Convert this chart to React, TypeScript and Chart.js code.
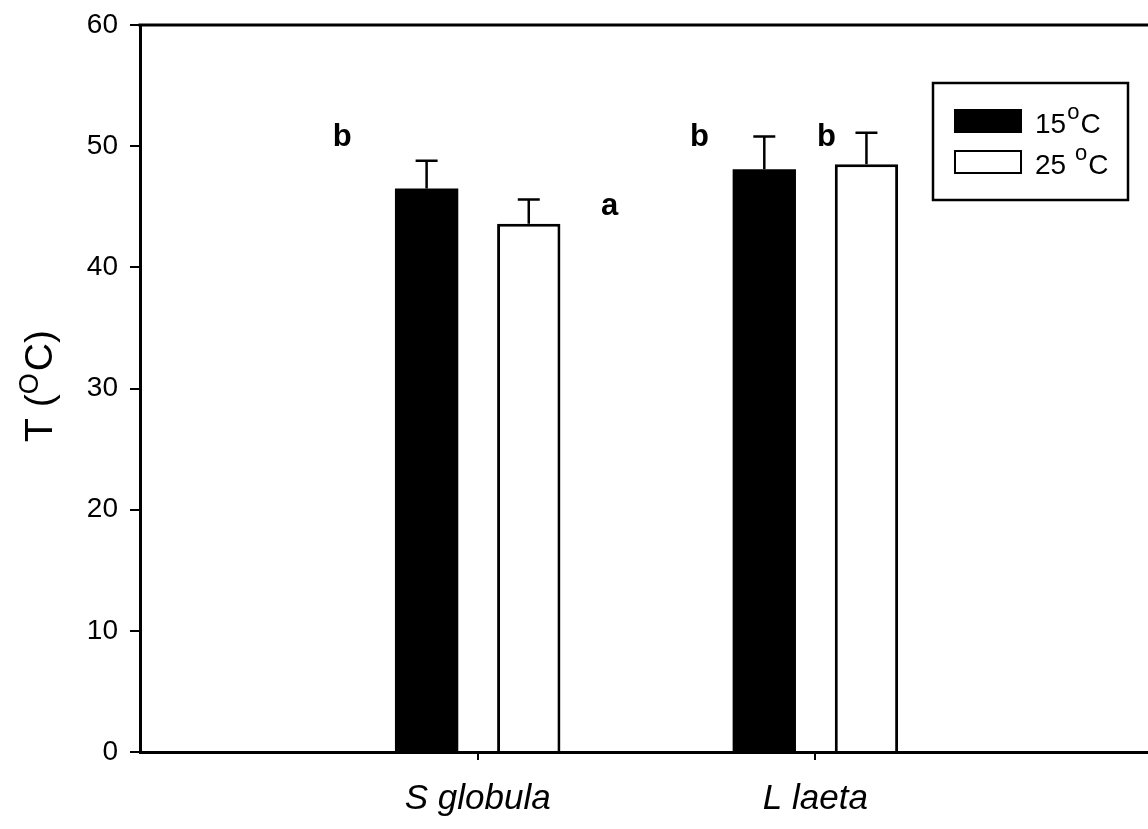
import React, { useEffect, useRef } from "react";
import { Chart, registerables } from "chart.js";

Chart.register(...registerables);

// Species on the x axis (placed at x = 1, 2)
const categories = ["S globula", "L laeta"];

// Mean temperature per species, one array per treatment
const mean15 = [46.5, 48.1];
const mean25 = [43.6, 48.5];

// Standard error (upper whisker only)
const err15 = [2.3, 2.7];
const err25 = [2.0, 2.6];

const seriesLabels = ["15", "25 "];

// Significance letters: text, x (axis units), y baseline (data units)
const letterText = ["b", "a", "b", "b"];
const letterX = [0.599, 1.391, 1.657, 2.033];
const letterY = [50, 44.3, 50, 50];

const yTicks = [0, 10, 20, 30, 40, 50, 60];

const FONT = '"Liberation Sans", Arial, Helvetica, sans-serif';

const errorBarPlugin = {
  id: "errorBars",
  afterDatasetsDraw(chart: any) {
    const { ctx } = chart;
    const yScale = chart.scales.y;
    const errs = [err15, err25];
    const means = [mean15, mean25];
    ctx.save();
    ctx.strokeStyle = "#000";
    ctx.lineWidth = 2.5;
    chart.data.datasets.forEach((_: any, di: number) => {
      const meta = chart.getDatasetMeta(di);
      meta.data.forEach((el: any, i: number) => {
        const yTop = yScale.getPixelForValue(means[di][i] + errs[di][i]);
        ctx.beginPath();
        ctx.moveTo(el.x, el.y);
        ctx.lineTo(el.x, yTop);
        ctx.moveTo(el.x - 11, yTop);
        ctx.lineTo(el.x + 11, yTop);
        ctx.stroke();
      });
    });
    ctx.restore();
  },
};

const decorPlugin = {
  id: "decor",
  afterDraw(chart: any) {
    const { ctx, chartArea } = chart;
    const xs = chart.scales.x;
    const ys = chart.scales.y;
    ctx.save();

    // top frame line
    ctx.strokeStyle = "#000";
    ctx.lineWidth = 3;
    ctx.beginPath();
    ctx.moveTo(chartArea.left - 1.5, chartArea.top);
    ctx.lineTo(chartArea.right, chartArea.top);
    ctx.stroke();

    // significance letters
    ctx.fillStyle = "#000";
    ctx.font = `bold 31px ${FONT}`;
    ctx.textAlign = "center";
    ctx.textBaseline = "alphabetic";
    letterText.forEach((t, i) => {
      ctx.fillText(t, xs.getPixelForValue(letterX[i]), ys.getPixelForValue(letterY[i]));
    });

    // y axis title: T (°C) with raised "O"
    ctx.translate(52, 386);
    ctx.rotate(-Math.PI / 2);
    ctx.textAlign = "left";
    const big = `39px ${FONT}`;
    const small = `27px ${FONT}`;
    ctx.font = big;
    const p1 = "T (";
    const p3 = "C)";
    const w1 = ctx.measureText(p1).width;
    const w3 = ctx.measureText(p3).width;
    ctx.font = small;
    const p2 = "O";
    const w2 = ctx.measureText(p2).width + 2;
    const total = w1 + w2 + w3;
    let x = -total / 2;
    ctx.font = big;
    ctx.fillText(p1, x, 0);
    x += w1;
    ctx.font = small;
    ctx.fillText(p2, x, -14);
    x += w2;
    ctx.font = big;
    ctx.fillText(p3, x, 0);
    ctx.setTransform(1, 0, 0, 1, 0, 0);

    // legend box
    const bx = 933, by = 83, bw = 195, bh = 117;
    ctx.lineWidth = 2.5;
    ctx.strokeRect(bx, by, bw, bh);
    chart.data.datasets.forEach((ds: any, i: number) => {
      const sy = by + 27 + i * 41;
      ctx.fillStyle = ds.backgroundColor;
      ctx.fillRect(955, sy, 66, 22);
      ctx.strokeStyle = "#000";
      ctx.lineWidth = 2;
      ctx.strokeRect(955, sy, 66, 22);
      ctx.fillStyle = "#000";
      ctx.font = `28px ${FONT}`;
      ctx.textAlign = "left";
      ctx.textBaseline = "alphabetic";
      const num = seriesLabels[i];
      ctx.fillText(num, 1035, sy + 23);
      const wn = ctx.measureText(num).width;
      ctx.font = `22px ${FONT}`;
      ctx.fillText("o", 1035 + wn + 1, sy + 9);
      const wo = ctx.measureText("o").width;
      ctx.font = `28px ${FONT}`;
      ctx.fillText("C", 1035 + wn + wo + 2, sy + 23);
    });
    ctx.restore();
  },
};

export default function App() {
  const ref = useRef<HTMLCanvasElement | null>(null);

  useEffect(() => {
    if (!ref.current) return;
    const chart = new Chart(ref.current, {
      type: "bar",
      data: {
        datasets: [
          {
            label: "15 °C",
            data: categories.map((_, i) => ({ x: i + 1, y: mean15[i] })),
            backgroundColor: "#000000",
            borderColor: "#000000",
            borderWidth: 0,
          },
          {
            label: "25 °C",
            data: categories.map((_, i) => ({ x: i + 1, y: mean25[i] })),
            backgroundColor: "#ffffff",
            borderColor: "#000000",
            borderWidth: 3,
          },
        ],
      },
      options: {
        responsive: false,
        animation: false,
        categoryPercentage: 0.605,
        barPercentage: 0.62,
        layout: { padding: { top: 25, right: 0, left: 0, bottom: 0 } },
        plugins: {
          legend: { display: false },
          tooltip: { enabled: false },
        },
        scales: {
          x: {
            type: "linear",
            offset: false,
            min: 0,
            max: 2.985,
            afterBuildTicks: (axis: any) => {
              axis.ticks = categories.map((_, i) => ({ value: i + 1 }));
            },
            afterFit: (scale: any) => {
              scale.height = 77;
              scale.paddingLeft = 0;
              scale.paddingRight = 0;
            },
            border: { display: true, color: "#000", width: 3 },
            grid: {
              offset: false,
              drawOnChartArea: false,
              drawTicks: true,
              tickLength: 8,
              color: "#000",
              lineWidth: 2,
            },
            ticks: {
              color: "#000",
              padding: 18,
              maxRotation: 0,
              autoSkip: false,
              font: { family: FONT, size: 35, style: "italic" },
              callback: (v: any) => categories[Math.round(Number(v)) - 1] ?? "",
            },
          },
          y: {
            min: 0,
            max: 60,
            afterBuildTicks: (axis: any) => {
              axis.ticks = yTicks.map((v) => ({ value: v }));
            },
            afterFit: (scale: any) => {
              scale.width = 140;
              scale.paddingTop = 0;
              scale.paddingBottom = 0;
            },
            border: { display: true, color: "#000", width: 3 },
            grid: {
              drawOnChartArea: false,
              drawTicks: true,
              tickLength: 10,
              color: "#000",
              lineWidth: 2,
            },
            ticks: {
              color: "#000",
              padding: 12,
              font: { family: FONT, size: 28 },
            },
          },
        },
      },
      plugins: [errorBarPlugin, decorPlugin],
    });
    return () => chart.destroy();
  }, []);

  return (
    <div
      style={{
        position: "fixed",
        left: 0,
        top: 0,
        width: 1148,
        height: 829,
        background: "#fff",
        overflow: "hidden",
      }}
    >
      <canvas ref={ref} width={1148} height={829} />
    </div>
  );
}
